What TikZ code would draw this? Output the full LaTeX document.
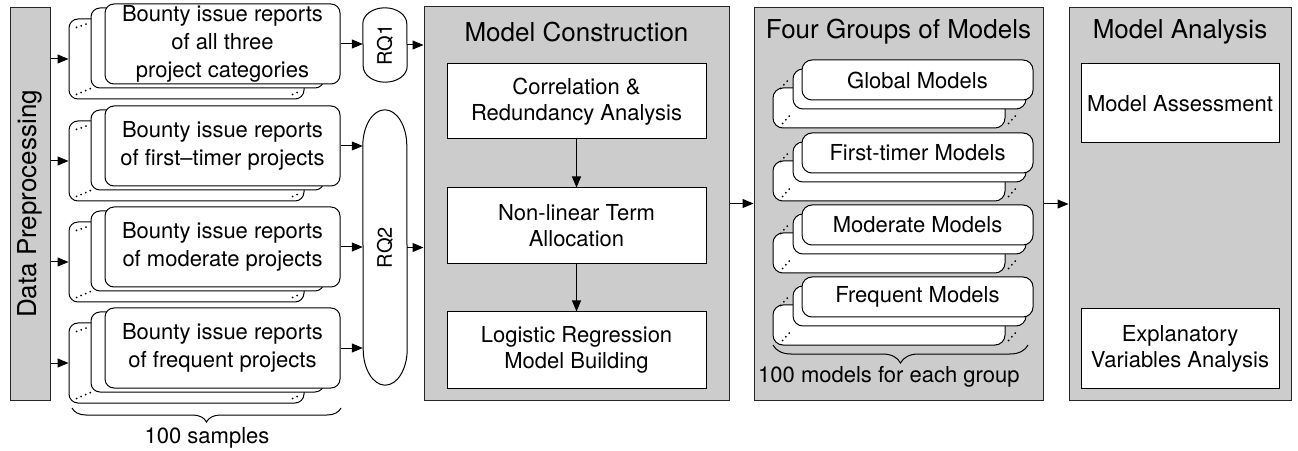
\documentclass[tikz,border=0pt]{standalone}
\usepackage{fontspec}
\setmainfont{TeX Gyre Heros}
\usetikzlibrary{arrows.meta, decorations.pathreplacing}

\begin{document}
\begin{tikzpicture}[x=1pt, y=1pt,
    every node/.style = {font=\fontsize{22}{26}\selectfont, inner sep=0pt},
    panel/.style = {draw=black!85, fill=black!20, line width=1pt},
    title/.style = {font=\fontsize{26}{30}\selectfont},
    sample/.style = {draw, fill=white, rounded corners=9pt, line width=1pt, align=center,
        minimum width=235pt, minimum height=80pt, font=\fontsize{22}{28}\selectfont},
    model/.style = {draw, fill=white, rounded corners=10pt, line width=1pt,
        minimum width=231pt, minimum height=40pt},
    stepbox/.style = {draw, fill=white, line width=1pt, align=center},
    dots/.style = {line width=2pt, dash pattern=on 0pt off 5pt, line cap=round},
    arr/.style = {-{Triangle[length=11pt, width=9pt]}, line width=1pt}]

    \useasboundingbox (0,0) rectangle (1298,450);

    % preprocessing bar
    \node[panel, title, minimum width=40pt, minimum height=392pt] at (30,246) (dp) {\rotatebox{90}{Data Preprocessing}};

    % bounty issue report samples
    \node[sample] at (186.5,391) (back1) {};
    \node[sample, minimum width=233pt] at (207.5,402) (mid1) {};
    \node[sample] at (222.5,406) (front1) {Bounty issue reports\\of all three\\project categories};
    \draw[dots] ([shift={(8,-9)}]back1.north west) -- ++(14,5);
    \draw[dots] ([shift={(8,5)}]back1.south west) -- ++(14,6);
    \draw[dots] ([shift={(-12,5)}]back1.south east) -- ++(7,3);

    \node[sample] at (186.5,289) (back2) {};
    \node[sample, minimum width=233pt] at (207.5,300) (mid2) {};
    \node[sample] at (222.5,304) (front2) {Bounty issue reports\\of first–timer projects};
    \draw[dots] ([shift={(8,-9)}]back2.north west) -- ++(14,5);
    \draw[dots] ([shift={(8,5)}]back2.south west) -- ++(14,6);
    \draw[dots] ([shift={(-12,5)}]back2.south east) -- ++(7,3);

    \node[sample] at (186.5,188) (back3) {};
    \node[sample, minimum width=233pt] at (207.5,199) (mid3) {};
    \node[sample] at (222.5,203) (front3) {Bounty issue reports\\of moderate projects};
    \draw[dots] ([shift={(8,-9)}]back3.north west) -- ++(14,5);
    \draw[dots] ([shift={(8,5)}]back3.south west) -- ++(14,6);
    \draw[dots] ([shift={(-12,5)}]back3.south east) -- ++(7,3);

    \node[sample] at (186.5,87) (back4) {};
    \node[sample, minimum width=233pt] at (207.5,98) (mid4) {};
    \node[sample] at (222.5,102) (front4) {Bounty issue reports\\of frequent projects};
    \draw[dots] ([shift={(8,-9)}]back4.north west) -- ++(14,5);
    \draw[dots] ([shift={(8,5)}]back4.south west) -- ++(14,6);
    \draw[dots] ([shift={(-12,5)}]back4.south east) -- ++(7,3);

    \coordinate (sampL) at (72,42);
    \coordinate (sampR) at (341,42);
    \draw[decorate, decoration={brace, mirror, amplitude=14pt}, line width=1pt] (sampL) -- (sampR);
    \node at (207,12) (samples) {100 samples};

    % research questions
    \node[minimum width=44pt, minimum height=74pt, font=\fontsize{20}{24}\selectfont] at (385,405) (rq1) {\rotatebox{90}{RQ1}};
    \draw[line width=1pt] ([yshift=-16pt]rq1.north west) arc[start angle=180, end angle=0, x radius=22pt, y radius=16pt]
        -- ([yshift=16pt]rq1.south east) arc[start angle=0, end angle=-180, x radius=22pt, y radius=16pt] -- cycle;
    \node[minimum width=44pt, minimum height=275pt, font=\fontsize{20}{24}\selectfont] at (385,202.5) (rq2) {\rotatebox{90}{RQ2}};
    \draw[line width=1pt] ([yshift=-36pt]rq2.north west) arc[start angle=180, end angle=0, x radius=22pt, y radius=36pt]
        -- ([yshift=36pt]rq2.south east) arc[start angle=0, end angle=-180, x radius=22pt, y radius=36pt] -- cycle;

    % model construction
    \node[panel, minimum width=305pt, minimum height=393pt] at (576.5,246.5) (mc) {};
    \node[title] at (576.5,418) (mctitle) {Model Construction};
    \node[stepbox, minimum width=259pt, minimum height=75pt] at (576.5,348.5) (corr) {Correlation \&\\Redundancy Analysis};
    \node[stepbox, minimum width=259pt, minimum height=76pt] at (576.5,224) (nonlin) {Non-linear Term\\Allocation};
    \node[stepbox, minimum width=259pt, minimum height=76pt] at (576.5,100) (logreg) {Logistic Regression\\Model Building};

    % four groups of models
    \node[panel, minimum width=289pt, minimum height=392pt] at (898.5,246) (fg) {};
    \node[title] at (898.5,418) (fgtitle) {Four Groups of Models};

    \node[model, minimum width=232pt] at (889,342) (gback1) {};
    \node[model, minimum width=233pt] at (909.5,361) (gmid1) {};
    \node[model] at (917.5,370) (global) {Global Models};
    \draw[dots] ([shift={(8,-1)}]gback1.north west) -- ++(9,10);
    \draw[dots] ([shift={(10,5)}]gback1.south west) -- ++(10,11);
    \draw[dots] ([shift={(3,5)}]gback1.south east) -- ++(10,11);

    \node[model, minimum width=232pt] at (889,269) (gback2) {};
    \node[model, minimum width=233pt] at (909.5,288) (gmid2) {};
    \node[model] at (917.5,297) (firsttimer) {First-timer Models};
    \draw[dots] ([shift={(8,-1)}]gback2.north west) -- ++(9,10);
    \draw[dots] ([shift={(10,5)}]gback2.south west) -- ++(10,11);
    \draw[dots] ([shift={(3,5)}]gback2.south east) -- ++(10,11);

    \node[model, minimum width=232pt] at (889,197) (gback3) {};
    \node[model, minimum width=233pt] at (909.5,216) (gmid3) {};
    \node[model] at (917.5,225) (moderate) {Moderate Models};
    \draw[dots] ([shift={(8,-1)}]gback3.north west) -- ++(9,10);
    \draw[dots] ([shift={(10,5)}]gback3.south west) -- ++(10,11);
    \draw[dots] ([shift={(3,5)}]gback3.south east) -- ++(10,11);

    \node[model, minimum width=232pt] at (889,125) (gback4) {};
    \node[model, minimum width=233pt] at (909.5,144) (gmid4) {};
    \node[model] at (917.5,153) (frequent) {Frequent Models};
    \draw[dots] ([shift={(8,-1)}]gback4.north west) -- ++(9,10);
    \draw[dots] ([shift={(10,5)}]gback4.south west) -- ++(10,11);
    \draw[dots] ([shift={(3,5)}]gback4.south east) -- ++(10,11);

    \coordinate (grpL) at (773,105);
    \coordinate (grpR) at (1028,105);
    \draw[decorate, decoration={brace, mirror, amplitude=18pt}, line width=1pt] (grpL) -- (grpR);
    \node[anchor=west] at (758,73) (eachgroup) {100 models for each group};

    % model analysis
    \node[panel, minimum width=222pt, minimum height=392pt] at (1180,246) (ma) {};
    \node[title] at (1180,418) (matitle) {Model Analysis};
    \node[stepbox, minimum width=198pt, minimum height=79pt] at (1180,346.5) (assess) {Model Assessment};
    \node[stepbox, minimum width=198pt, minimum height=79pt] at (1180,101.5) (explain) {Explanatory\\Variables Analysis};

    % connectors
    \draw[arr] (back1.west -| dp.east) -- (back1.west);
    \draw[arr] (back2.west -| dp.east) -- (back2.west);
    \draw[arr] (back3.west -| dp.east) -- (back3.west);
    \draw[arr] (back4.west -| dp.east) -- (back4.west);

    \draw[arr] (front1.east) -- (front1.east -| rq1.west);
    \draw[arr] (front2.east) -- (front2.east -| rq2.west);
    \draw[arr] (front3.east) -- (front3.east -| rq2.west);
    \draw[arr] (front4.east) -- (front4.east -| rq2.west);

    \draw[arr] (rq1.east) -- (rq1.east -| mc.west);
    \draw[arr] (rq2.east) -- (rq2.east -| mc.west);

    \draw[arr] (corr) -- (nonlin);
    \draw[arr] (nonlin) -- (logreg);

    \draw[arr] (mc.east) -- (mc.east -| fg.west);
    \draw[arr] (fg.east) -- (fg.east -| ma.west);
\end{tikzpicture}
\end{document}
